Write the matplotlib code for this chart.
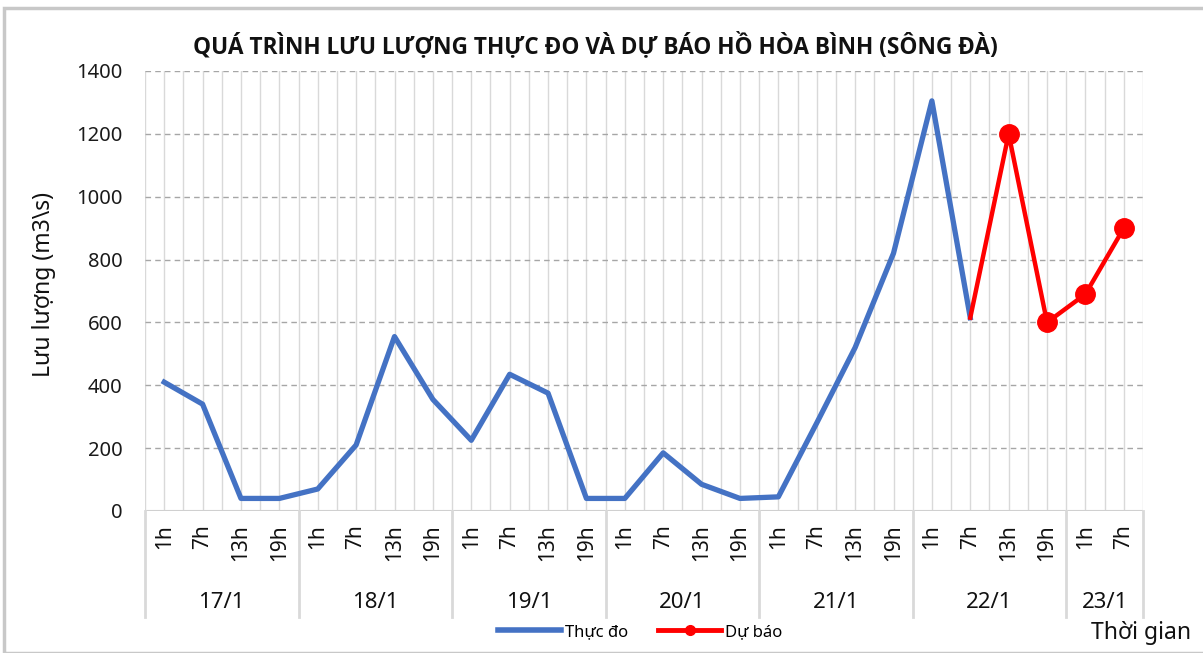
import matplotlib
matplotlib.use("Agg")
import matplotlib.pyplot as plt
from matplotlib.lines import Line2D
from matplotlib.patches import Rectangle

plt.rcParams['font.family'] = ['Noto Sans', 'DejaVu Sans']

# ---- data ----
dates = ["17/1", "18/1", "19/1", "20/1", "21/1", "22/1", "23/1"]
hours_per_date = [["1h", "7h", "13h", "19h"]] * 6 + [["1h", "7h"]]
observed = [410, 340, 40, 40, 70, 210, 555, 355, 225, 435, 375, 40,
            40, 185, 85, 40, 45, 280, 520, 820, 1305, 615]
forecast_start = 21  # index of 22/1 7h
forecast = [615, 1200, 600, 690, 900]
title = "QUÁ TRÌNH LƯU LƯỢNG THỰC ĐO VÀ DỰ BÁO HỒ HÒA BÌNH (SÔNG ĐÀ)"
ylabel = "Lưu lượng (m3\\s)"
xlabel = "Thời gian"
yticks = [0, 200, 400, 600, 800, 1000, 1200, 1400]

hours = [h for hs in hours_per_date for h in hs]
n = len(hours)

W, H = 1203, 653
fig = plt.figure(figsize=(W / 100, H / 100), dpi=100)
ax = fig.add_axes([145 / W, 1 - 511 / H, (1143 - 145) / W, (511 - 71) / H])

# frame of screenshot
fig.patches.append(Rectangle((4 / W, 0), 1.2, 1 - 8 / H, transform=fig.transFigure,
                             fill=False, edgecolor="#c8c8c8", lw=2.5, zorder=0))

ax.set_xlim(-0.5, n - 0.5)
ax.set_ylim(0, 1400)

# gridlines
for v in yticks[1:]:
    ax.axhline(v, color="#a6a6a6", lw=1.0, ls=(0, (4, 3)), zorder=1)
for i in range(2 * n + 1):
    ax.axvline(-0.5 + i * 0.5, color="#d9d9d9", lw=1.0, zorder=0.5)
ax.axhline(0, color="#d0d0d0", lw=1.5, zorder=1)

x_obs = list(range(len(observed)))
x_fc = list(range(forecast_start, forecast_start + len(forecast)))
ax.plot(x_obs, observed, color="#4472C4", lw=3.8, solid_joinstyle="round", zorder=3)
ax.plot(x_fc, forecast, color="#FF0000", lw=3.2, zorder=4)
ax.plot(x_fc[1:], forecast[1:], ls="none", marker="o", ms=14, color="#FF0000", zorder=5)

for s in ax.spines.values():
    s.set_visible(False)
ax.set_yticks(yticks)
ax.set_yticklabels([str(v) for v in yticks], fontsize=14.5, color="#1a1a1a")
ax.tick_params(axis="y", length=0, pad=16)
ax.set_xticks([])

ax.set_ylabel(ylabel, fontsize=16.5, color="#111111")
ax.yaxis.set_label_coords(-0.089, 0.515)

tr = ax.get_xaxis_transform()
ypx = lambda px: (511 - px) / 440.0
for i, h in enumerate(hours):
    ax.text(i, ypx(524), h, rotation=90, ha="center", va="top", fontsize=15,
            color="#111111", transform=tr, clip_on=False)
start = 0
bounds = [-0.5]
for d, hs in zip(dates, hours_per_date):
    end = start + len(hs)
    ax.text((start + end - 1) / 2, ypx(603), d, ha="center", va="center",
            fontsize=16, color="#111111", transform=tr, clip_on=False)
    bounds.append(end - 0.5)
    start = end
for b in bounds:
    ax.plot([b, b], [0, ypx(617)], color="#d9d9d9", lw=2, transform=tr, clip_on=False)

fig.text(595 / W, 1 - 46 / H, title, ha="center", va="center", fontsize=16.3,
         fontweight="bold", family=["Open Sans", "DejaVu Sans"], color="#111111")
fig.text(1191 / W, 1 - 633 / H, xlabel, ha="right", va="center", fontsize=16.5,
         color="#111111")

handles = [Line2D([], [], color="#4472C4", lw=4),
           Line2D([], [], color="#FF0000", lw=3.5, marker="o", ms=7)]
fig.legend(handles, ["Thực đo", "Dự báo"], loc="center", bbox_to_anchor=(640 / W, 1 - 632 / H),
           ncol=2, frameon=False, fontsize=12, handlelength=3.8, handletextpad=0.2,
           columnspacing=1.8)

fig.savefig("out.png", dpi=100)
